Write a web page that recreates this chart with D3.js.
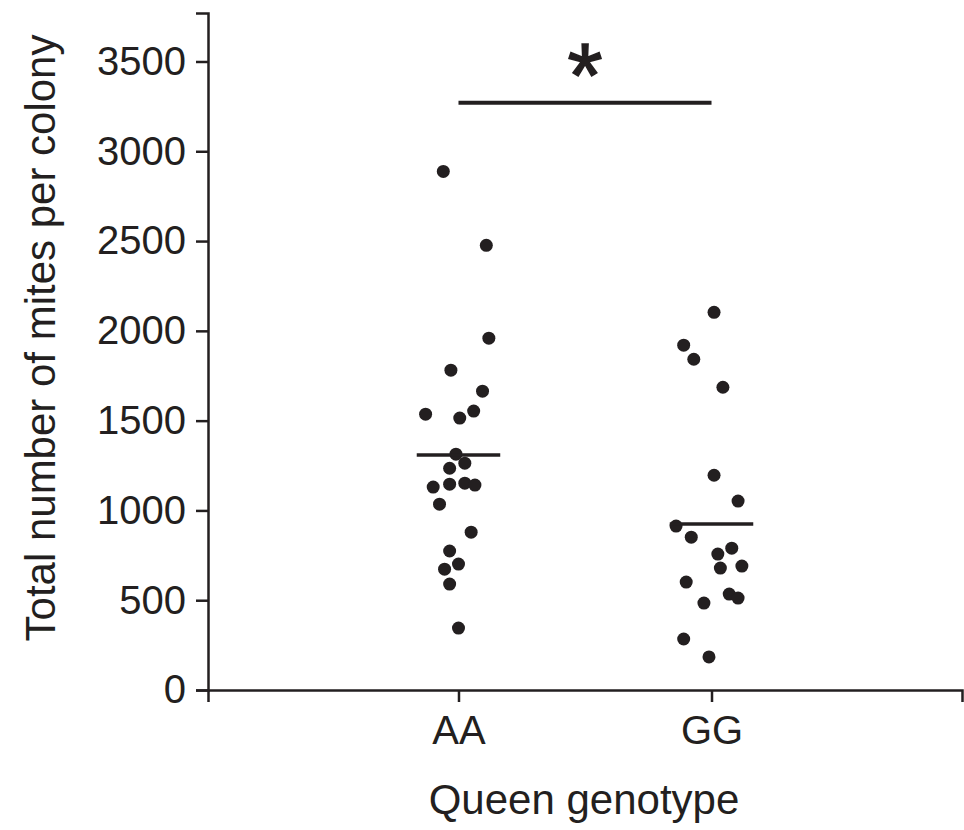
<!DOCTYPE html>
<html>
<head>
<meta charset="utf-8">
<script src="https://cdn.jsdelivr.net/npm/d3@7"></script>
<style>
  body { margin: 0; background: #fff; }
  text { font-family: "Liberation Sans", Arial, sans-serif; fill: #231f20; }
</style>
</head>
<body>
<div id="chart-area"></div>
<script>
// genotype groups
const genotypes = ['AA', 'GG']

// mites per colony, plus the horizontal jitter (in group widths)
const aaValues = [2888, 2476, 1959, 1781, 1664, 1536, 1514, 1553, 1313, 1263, 1235,
                  1130, 1146, 1152, 1141, 1035, 879, 774, 673, 701, 590, 345]
const aaJitter = [-0.06, 0.11, 0.12, -0.03, 0.095, -0.13, 0.005, 0.06, -0.01, 0.025, -0.035,
                  -0.1, -0.035, 0.025, 0.065, -0.075, 0.05, -0.035, -0.055, 0, -0.035, 0]

const ggValues = [2103, 1920, 1842, 1686, 1196, 1052, 913, 851, 790, 757, 679,
                  690, 601, 534, 512, 484, 284, 184]
const ggJitter = [0.01, -0.11, -0.07, 0.045, 0.01, 0.105, -0.14, -0.08, 0.08, 0.025, 0.035,
                  0.12, -0.1, 0.07, 0.105, -0.03, -0.11, -0.01]

// group means as drawn
const means = [1308, 924]
const yTicks = [0, 500, 1000, 1500, 2000, 2500, 3000, 3500]
const sigLevel = 3270

const margin = { top: 13, right: 2, bottom: 140, left: 208 }
const width = 964 - margin.left - margin.right
const height = 830 - margin.top - margin.bottom

const svg = d3.select('#chart-area')
              .append('svg')
              .attr('width', 964)
              .attr('height', 830)

const g = svg.append('g')
             .attr('transform', 'translate(' + margin.left + ',' + margin.top + ')')

const x = d3.scaleLinear()
            .domain([-0.99, 1.99])
            .range([0, width])

const y = d3.scaleLinear()
            .domain([0, 3770])
            .range([height, 0])

const ink = '#231f20'

// AXES
const xAxisCall = d3.axisBottom(x)
                    .tickValues([0, 1])
                    .tickFormat(i => genotypes[i])
                    .tickSizeOuter(0)
                    .tickSize(12)
                    .tickPadding(14)
const xg = g.append('g')
            .attr('class', 'x-axis')
            .attr('transform', 'translate(0, ' + height + ')')
            .call(xAxisCall)
xg.selectAll('text').attr('font-size', '40px').style('font-family', '"Liberation Sans", Arial, sans-serif')

const yAxisCall = d3.axisLeft(y)
                    .tickValues(yTicks)
                    .tickFormat(d3.format('d'))
                    .tickSizeOuter(0)
                    .tickSize(12)
                    .tickPadding(10)
const yg = g.append('g')
            .attr('class', 'y-axis')
            .call(yAxisCall)
yg.selectAll('text').attr('font-size', '40px').style('font-family', '"Liberation Sans", Arial, sans-serif')

g.selectAll('.domain, .tick line').attr('stroke', ink).attr('stroke-width', 2.5)

// AXIS LABELS
svg.append('text')
   .attr('x', 584)
   .attr('y', 814)
   .attr('font-size', '42px')
   .attr('text-anchor', 'middle')
   .text('Queen genotype')

svg.append('text')
   .attr('x', -338)
   .attr('y', 55)
   .attr('font-size', '42px')
   .attr('text-anchor', 'middle')
   .attr('transform', 'rotate(-90)')
   .text('Total number of mites per colony')

// POINTS
const points = []
aaValues.forEach((v, i) => points.push({ group: 0, value: v, jitter: aaJitter[i] }))
ggValues.forEach((v, i) => points.push({ group: 1, value: v, jitter: ggJitter[i] }))

g.selectAll('circle')
 .data(points)
 .enter()
 .append('circle')
 .attr('cx', d => x(d.group + d.jitter))
 .attr('cy', d => y(d.value))
 .attr('r', 6.5)
 .attr('fill', ink)

// MEAN LINES
g.selectAll('.mean')
 .data(means)
 .enter()
 .append('line')
 .attr('class', 'mean')
 .attr('x1', (d, i) => x(i - 0.165))
 .attr('x2', (d, i) => x(i + 0.165))
 .attr('y1', d => y(d))
 .attr('y2', d => y(d))
 .attr('stroke', ink)
 .attr('stroke-width', 3.5)

// SIGNIFICANCE BAR
g.append('line')
 .attr('x1', x(0))
 .attr('x2', x(1))
 .attr('y1', y(sigLevel))
 .attr('y2', y(sigLevel))
 .attr('stroke', ink)
 .attr('stroke-width', 4)

g.append('text')
 .attr('x', x(0.5))
 .attr('y', y(sigLevel) + 4)
 .attr('font-size', '90px')
 .attr('text-anchor', 'middle')
 .attr('stroke', ink)
 .attr('stroke-width', 1.5)
 .text('*')
</script>
</body>
</html>
